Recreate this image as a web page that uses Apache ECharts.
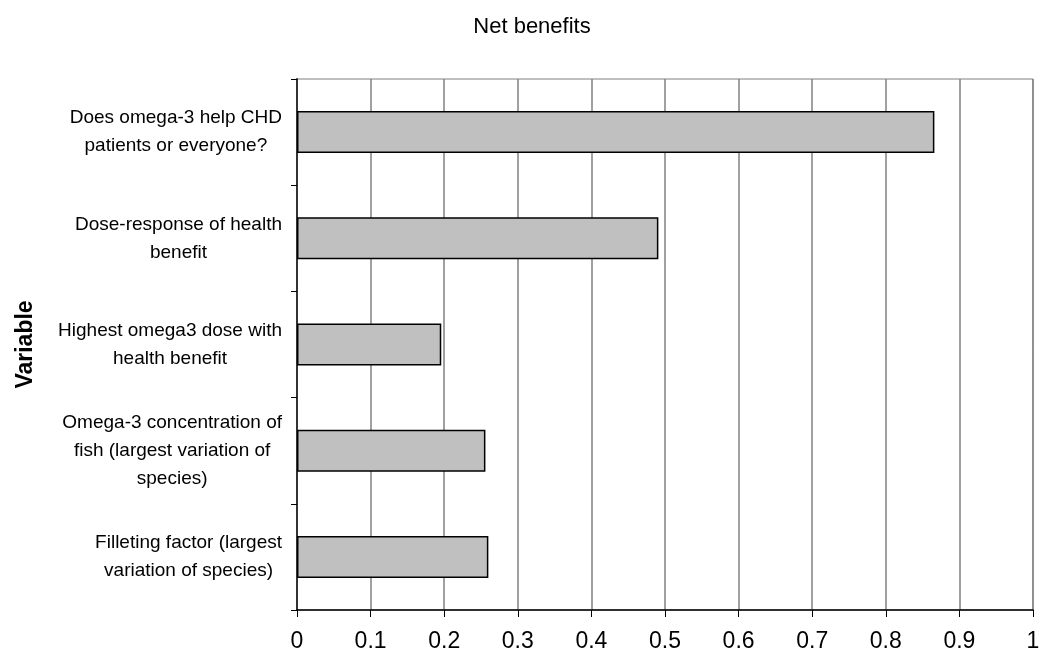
<!DOCTYPE html>
<html>
<head>
<meta charset="utf-8">
<title>Net benefits</title>
<script src="https://cdn.jsdelivr.net/npm/echarts@6/dist/echarts.min.js"></script>
<style>
  html, body { margin: 0; padding: 0; background: #fff; }
  #chart { width: 1043px; height: 659px; }
</style>
</head>
<body>
<div id="chart"></div>
<script>
// categories, top to bottom (line breaks as in the original labels)
var categories = [
  'Does omega-3 help CHD\npatients or everyone?',
  'Dose-response of health\nbenefit',
  'Highest omega3 dose with\nhealth benefit',
  'Omega-3 concentration of\nfish (largest variation of\nspecies)',
  'Filleting factor (largest\nvariation of species)'
];
var netBenefit = [0.866, 0.491, 0.196, 0.256, 0.26];

var xMin = 0;
var xMax = 1;
var xStep = 0.1;

var chart = echarts.init(document.getElementById('chart'));

// each line gets the same rich style so lines are centred inside the label block
function centerLines(value) {
  return value.split('\n').map(function (l) { return '{c|' + l + '}'; }).join('\n');
}

var option = {
  animation: false,
  textStyle: { fontFamily: 'Liberation Sans, Arial, sans-serif' },
  title: {
    text: 'Net benefits',
    left: 527,
    top: 11,
    textAlign: 'center',
    textStyle: { fontSize: 22, fontWeight: 'normal', color: '#000' }
  },
  grid: {
    left: 297,
    right: 10,
    top: 79,
    bottom: 49,
    outerBoundsMode: 'none',
    containLabel: false,
    show: true,
    borderColor: '#808080',
    borderWidth: 1
  },
  xAxis: {
    type: 'value',
    min: xMin,
    max: xMax,
    interval: xStep,
    axisLine: { show: true, lineStyle: { color: '#000', width: 1.5 } },
    axisTick: { show: true, length: 7, lineStyle: { color: '#000' } },
    axisLabel: { fontSize: 23, color: '#000', margin: 20 },
    splitLine: { show: true, lineStyle: { color: '#808080', width: 1.5 } }
  },
  yAxis: {
    type: 'category',
    inverse: true,
    data: categories,
    name: 'Variable',
    nameLocation: 'middle',
    nameRotate: 90,
    nameGap: 260,
    nameTextStyle: { fontSize: 23, fontWeight: 'bold', color: '#000' },
    axisLine: { show: true, lineStyle: { color: '#333', width: 2 } },
    axisTick: { show: true, length: 6, lineStyle: { color: '#000' } },
    axisLabel: {
      margin: 15,
      color: '#000',
      formatter: centerLines,
      rich: {
        c: { fontSize: 19, lineHeight: 28, align: 'center', color: '#000' }
      }
    },
    splitLine: { show: false }
  },
  series: [{
    type: 'bar',
    data: netBenefit,
    barWidth: 42,
    itemStyle: { color: '#c0c0c0', borderColor: '#000', borderWidth: 1.5 }
  }]
};

chart.setOption(option);
</script>
</body>
</html>
